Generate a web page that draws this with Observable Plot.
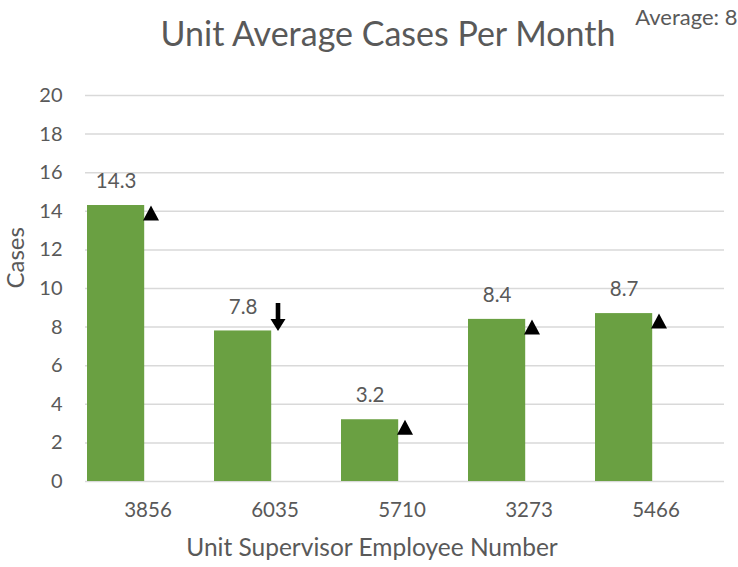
<!DOCTYPE html>
<html>
<head>
<meta charset="utf-8">
<script src="https://cdn.jsdelivr.net/npm/d3@7"></script>
<script src="https://cdn.jsdelivr.net/npm/@observablehq/plot@0.6"></script>
<style>
  html, body { margin: 0; padding: 0; background: #fff; }
</style>
</head>
<body>
<div id="chart"></div>
<script>
const units = ["3856", "6035", "5710", "3273", "5466"];
const cases = [14.3, 7.8, 3.2, 8.4, 8.7];
const trends = ["up", "down", "up", "up", "up"];
const yTicks = [0, 2, 4, 6, 8, 10, 12, 14, 16, 18, 20];
const titleText = "Unit Average Cases Per Month";
const averageText = "Average: 8";
const xTitle = "Unit Supervisor Employee Number";
const yTitle = "Cases";

const data = units.map((u, i) => ({unit: u, cases: cases[i], trend: trends[i]}));

// marker shapes; anchor point is the top of each bar
const upTriangle = {
  draw(ctx) {
    ctx.moveTo(0, 0);
    ctx.lineTo(8, 15);
    ctx.lineTo(-8, 15);
    ctx.closePath();
  }
};
const downArrow = {
  draw(ctx) {
    ctx.moveTo(0, 0);
    ctx.lineTo(7.5, -12);
    ctx.lineTo(2.3, -12);
    ctx.lineTo(2.3, -28);
    ctx.lineTo(-2.3, -28);
    ctx.lineTo(-2.3, -12);
    ctx.lineTo(-7.5, -12);
    ctx.closePath();
  }
};

const W = 738, H = 567;
const mL = 85, mR = 14, mT = 95, mB = 86;
const band = (W - mL - mR) / units.length;
const barW = 58;
const textColor = "#595959";
const gridColor = "#d9d9d9";
const green = "#6aa042";

const chart = Plot.plot({
  width: W,
  height: H,
  marginLeft: mL,
  marginRight: mR,
  marginTop: mT,
  marginBottom: mB,
  style: {fontFamily: "Lato, sans-serif", fontSize: "20px", color: textColor, background: "#fff", overflow: "visible"},
  x: {domain: units, padding: 0, label: null},
  y: {domain: [0, 20], label: null},
  symbol: {domain: ["up", "down"], range: [upTriangle, downArrow]},
  marks: [
    Plot.ruleY(yTicks, {stroke: gridColor, strokeWidth: 1.5}),
    Plot.axisY(yTicks, {tickSize: 0, tickPadding: 23, fontSize: 20, fill: textColor, label: null}),
    Plot.axisX({tickSize: 0, tickPadding: 21, dx: -3, fontSize: 20.5, fill: textColor, label: null}),
    Plot.barY(data, {x: "unit", y: "cases", fill: green, insetLeft: 0, insetRight: band - barW}),
    Plot.text(data, {x: "unit", y: "cases", text: d => d.cases.toFixed(1), dx: barW / 2 - band / 2, dy: -24, lineAnchor: "middle", fill: textColor, fontSize: 20.5}),
    Plot.dot(data, {x: "unit", y: "cases", symbol: "trend", fill: "black", stroke: "none", r: 5}),
    Plot.text([titleText], {frameAnchor: "top", dx: -17, dy: -60, lineAnchor: "middle", fontSize: 34, fill: textColor}),
    Plot.text([averageText], {frameAnchor: "top-right", textAnchor: "end", dx: 13, dy: -78, lineAnchor: "middle", fontSize: 22, fill: textColor}),
    Plot.text([yTitle], {frameAnchor: "left", dx: -69, rotate: -90, lineAnchor: "middle", fontSize: 24, fill: textColor}),
    Plot.text([xTitle], {frameAnchor: "bottom", dx: -33, dy: 67, lineAnchor: "middle", fontSize: 24.5, fill: textColor})
  ]
});
document.getElementById("chart").appendChild(chart);
</script>
</body>
</html>
